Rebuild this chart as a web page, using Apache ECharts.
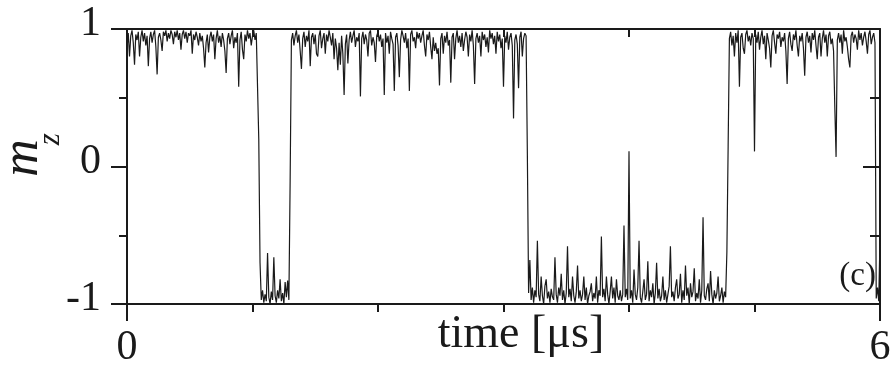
<!DOCTYPE html>
<html>
<head>
<meta charset="utf-8">
<script src="https://cdn.jsdelivr.net/npm/echarts@6/dist/echarts.min.js"></script>
<style>
  html, body { margin: 0; padding: 0; background: #fff; }
  #chart { width: 893px; height: 365px; }
</style>
</head>
<body>
<div id="chart"></div>
<script>
// Magnetisation trace m_z(t), sampled every 10 ns, split into its switching segments.
const DT = 0.01; // µs
const segmentStart = [0.00, 1.05, 1.30, 3.19, 4.79]; // µs, first sample of each segment

// 0.00 – 1.04 µs : up state
const upA = [
  0.86, 0.97, 0.80, 0.95, 0.99, 0.90, 0.74, 0.96, 0.92, 0.98,
  0.80, 0.94, 0.99, 0.91, 0.97, 0.88, 0.95, 0.73, 0.93, 0.98,
  0.90, 0.96, 0.99, 0.87, 0.67, 0.94, 0.97, 0.92, 0.84, 0.98,
  0.95, 0.99, 0.91, 0.97, 0.93, 0.99, 0.96, 0.89, 0.98, 0.94,
  0.99, 0.92, 0.97, 0.85, 0.96, 0.99, 0.93, 0.98, 0.90, 0.97,
  0.95, 0.99, 0.82, 0.96, 0.92, 0.98, 0.94, 0.88, 0.97, 0.91,
  0.95, 0.86, 0.72, 0.90, 0.96, 0.83, 0.94, 0.98, 0.91, 0.96,
  0.78, 0.93, 0.99, 0.90, 0.95, 0.87, 0.97, 0.92, 0.84, 0.68,
  0.93, 0.97, 0.89, 0.95, 0.99, 0.86, 0.94, 0.90, 0.97, 0.58,
  0.92, 0.98, 0.85, 0.78, 0.96, 0.91, 0.99, 0.93, 0.97, 0.88,
  0.95, 0.99, 0.92, 0.97, 0.96
];

// 1.05 – 1.29 µs : switch down, short down state
const downB = [
  0.20, -0.70, -0.97, -0.90, -0.99, -0.93, -0.98, -0.63, -0.95, -1.00,
  -0.91, -0.97, -0.66, -0.94, -0.99, -0.90, -0.96, -0.82, -0.98, -0.92,
  -1.00, -0.84, -0.95, -0.83, -0.97
];

// 1.30 – 3.18 µs : switch up, long up state
const upC = [
  -0.10, 0.92, 0.97, 0.88, 0.95, 0.99, 0.90, 0.96, 0.84, 0.71,
  0.93, 0.98, 0.87, 0.95, 0.91, 0.99, 0.73, 0.94, 0.97, 0.89,
  0.96, 0.82, 0.80, 0.95, 0.99, 0.86, 0.93, 0.97, 0.82, 0.96,
  0.91, 0.99, 0.94, 0.88, 0.97, 0.78, 0.93, 0.86, 0.70, 0.90,
  0.74, 0.95, 0.82, 0.52, 0.89, 0.96, 0.75, 0.92, 0.98, 0.90,
  0.95, 0.99, 0.87, 0.94, 0.91, 0.97, 0.51, 0.93, 0.98, 0.89,
  0.96, 0.92, 0.80, 0.97, 0.99, 0.88, 0.94, 0.90, 0.76, 0.95,
  0.98, 0.91, 0.96, 0.87, 0.93, 0.52, 0.97, 0.90, 0.95, 0.82,
  0.98, 0.93, 0.89, 0.55, 0.94, 0.97, 0.88, 0.65, 0.92, 0.99,
  0.95, 0.90, 0.97, 0.86, 0.93, 0.55, 0.96, 0.99, 0.91, 0.94,
  0.86, 0.98, 0.93, 0.97, 0.90, 0.95, 0.99, 0.88, 0.80, 0.96,
  0.92, 0.98, 0.87, 0.78, 0.94, 0.84, 0.90, 0.82, 0.86, 0.59,
  0.93, 0.97, 0.82, 0.95, 0.90, 0.98, 0.88, 0.92, 0.61, 0.94,
  0.97, 0.78, 0.93, 0.99, 0.90, 0.95, 0.87, 0.97, 0.84, 0.92,
  0.98, 0.94, 0.80, 0.96, 0.91, 0.99, 0.88, 0.60, 0.93, 0.97,
  0.90, 0.95, 0.80, 0.98, 0.92, 0.96, 0.87, 0.94, 0.83, 0.99,
  0.93, 0.97, 0.89, 0.95, 0.82, 0.98, 0.91, 0.96, 0.86, 0.93,
  0.58, 0.95, 0.90, 0.98, 0.85, 0.94, 0.97, 0.88, 0.35, 0.92,
  0.96, 0.89, 0.57, 0.94, 0.98, 0.80, 0.93, 0.97, 0.95
];

// 3.19 – 4.78 µs : switch down, long down state
const downD = [
  0.10, -0.92, -0.68, -0.97, -0.88, -0.99, -0.90, -0.95, -0.54, -0.93,
  -0.98, -0.80, -0.94, -1.00, -0.87, -0.82, -0.96, -0.91, -0.99, -0.89,
  -0.95, -0.97, -0.66, -0.93, -0.99, -0.88, -0.94, -0.78, -0.97, -0.90,
  -1.00, -0.92, -0.58, -0.95, -0.89, -0.98, -0.80, -0.94, -0.99, -0.91,
  -0.72, -0.96, -0.90, -0.98, -0.93, -0.80, -0.97, -0.88, -1.00, -0.94,
  -0.91, -0.85, -0.98, -0.92, -0.96, -0.80, -0.99, -0.90, -0.94, -0.51,
  -0.95, -0.89, -0.98, -0.80, -0.93, -1.00, -0.91, -0.80, -0.96, -0.88,
  -0.99, -0.82, -0.94, -0.97, -0.90, -0.98, -0.93, -0.43, -0.95, -0.89,
  -0.97, 0.11, -0.96, -0.90, -0.99, -0.75, -0.93, -0.97, -0.88, -0.54,
  -0.95, -0.99, -0.91, -0.82, -0.97, -0.93, -0.69, -0.98, -0.90, -0.95,
  -0.85, -1.00, -0.92, -0.70, -0.96, -0.89, -0.98, -0.94, -0.80, -0.97,
  -0.90, -0.99, -0.93, -0.87, -0.58, -0.95, -0.91, -0.98, -0.88, -0.82,
  -0.96, -0.93, -0.78, -0.99, -0.90, -0.97, -0.72, -0.94, -0.88, -1.00,
  -0.85, -0.95, -0.91, -0.74, -0.98, -0.92, -0.96, -0.82, -0.99, -0.90,
  -0.37, -0.94, -0.97, -0.89, -0.85, -0.98, -0.76, -0.93, -1.00, -0.90,
  -0.96, -0.92, -0.80, -0.98, -0.94, -0.88, -0.99, -0.91, -0.95, -0.62
];

// 4.79 – 6.00 µs : switch up, up state, final flip at the end
const upE = [
  0.15, 0.93, 0.98, 0.88, 0.95, 0.80, 0.97, 0.90, 0.99, 0.58,
  0.94, 0.97, 0.86, 0.82, 0.96, 0.99, 0.91, 0.95, 0.88, 0.97,
  0.93, 0.11, 0.96, 0.90, 0.98, 0.85, 0.94, 0.99, 0.89, 0.95,
  0.78, 0.97, 0.92, 0.86, 0.72, 0.95, 0.99, 0.90, 0.82, 0.96,
  0.93, 0.98, 0.87, 0.94, 0.91, 0.97, 0.84, 0.60, 0.93, 0.98,
  0.89, 0.84, 0.96, 0.92, 0.99, 0.88, 0.80, 0.95, 0.91, 0.97,
  0.86, 0.66, 0.94, 0.98, 0.90, 0.95, 0.83, 0.97, 0.92, 0.99,
  0.88, 0.78, 0.94, 0.97, 0.80, 0.93, 0.99, 0.90, 0.96, 0.80,
  0.95, 0.98, 0.89, 0.93, 0.84, 0.43, 0.07, 0.92, 0.97, 0.90,
  0.96, 0.82, 0.99, 0.91, 0.94, 0.87, 0.78, 0.72, 0.95, 0.98,
  0.90, 0.96, 0.93, 0.85, 0.99, 0.92, 0.97, 0.88, 0.94, 0.98,
  0.91, 0.82, 0.96, 0.99, 0.89, 0.94, 0.97, 0.90, -0.96, -0.88,
  -0.98, -0.52
];

const segments = [upA, downB, upC, downD, upE];
const trace = [];
segments.forEach((vals, k) => {
  vals.forEach((v, i) => {
    trace.push([+(segmentStart[k] + i * DT).toFixed(2), v]);
  });
});

const INK = '#1a1a1a';
const SERIF = '"Liberation Serif", "DejaVu Serif", serif';

const frameLine = { show: true, onZero: false, lineStyle: { color: INK, width: 2 } };
const tickStyle = { color: INK, width: 2 };

const chart = echarts.init(document.getElementById('chart'), null, { renderer: 'canvas' });
chart.setOption({
  animation: false,
  backgroundColor: '#ffffff',
  grid: { left: 127, right: 13, top: 29, bottom: 61, containLabel: false, outerBoundsMode: 'none' },
  xAxis: [
    {
      type: 'value', min: 0, max: 6, interval: 6, position: 'bottom',
      axisLine: frameLine,
      axisTick: { show: true, inside: false, length: 17, lineStyle: tickStyle },
      minorTick: { show: true, splitNumber: 6, length: 8, lineStyle: tickStyle },
      splitLine: { show: false },
      axisLabel: { fontFamily: SERIF, fontSize: 42, color: INK, margin: 23 },
      name: 'time [μs]', nameLocation: 'middle', nameGap: 8, nameMoveOverlap: false,
      nameTextStyle: { fontFamily: SERIF, fontSize: 46, color: INK, padding: [0, 0, 0, 35] }
    },
    {
      type: 'value', min: 0, max: 6, interval: 6, position: 'top',
      axisLine: frameLine,
      axisTick: { show: true, inside: true, length: 8, lineStyle: tickStyle },
      minorTick: { show: true, splitNumber: 6, length: 8, lineStyle: tickStyle },
      splitLine: { show: false },
      axisLabel: { show: false }
    }
  ],
  yAxis: [
    {
      type: 'value', min: -1, max: 1, interval: 1, position: 'left',
      axisLine: frameLine,
      axisTick: { show: true, inside: false, length: 16, lineStyle: tickStyle },
      minorTick: { show: true, splitNumber: 2, length: 8, lineStyle: tickStyle },
      splitLine: { show: false },
      axisLabel: {
        fontFamily: SERIF, fontSize: 42, color: INK, margin: 26,
        verticalAlign: 'bottom', lineHeight: 10
      },
      name: '{m|m}{z|z}', nameLocation: 'middle', nameGap: 61, nameRotate: 90, nameMoveOverlap: false,
      nameTextStyle: {
        padding: [0, 0, 0, 23],
        rich: {
          m: { fontFamily: SERIF, fontStyle: 'italic', fontSize: 52, color: INK, verticalAlign: 'top', padding: [0, -6, 0, 0] },
          z: { fontFamily: SERIF, fontStyle: 'italic', fontSize: 31, color: INK, verticalAlign: 'top', padding: [38, 0, 0, 0] }
        }
      }
    },
    {
      type: 'value', min: -1, max: 1, interval: 1, position: 'right',
      axisLine: frameLine,
      axisTick: { show: true, inside: true, length: 17, lineStyle: tickStyle },
      minorTick: { show: true, splitNumber: 2, length: 10, lineStyle: tickStyle },
      splitLine: { show: false },
      axisLabel: { show: false }
    }
  ],
  graphic: [
    {
      type: 'text', right: 17, top: 260, z: 10,
      style: { text: '(c)', font: '33px "Liberation Serif", serif', fill: INK }
    }
  ],
  series: [
    {
      type: 'line',
      xAxisIndex: 0, yAxisIndex: 0,
      data: trace,
      showSymbol: false,
      sampling: 'none',
      lineStyle: { color: INK, width: 1.2 },
      emphasis: { disabled: true }
    }
  ]
});
</script>
</body>
</html>
